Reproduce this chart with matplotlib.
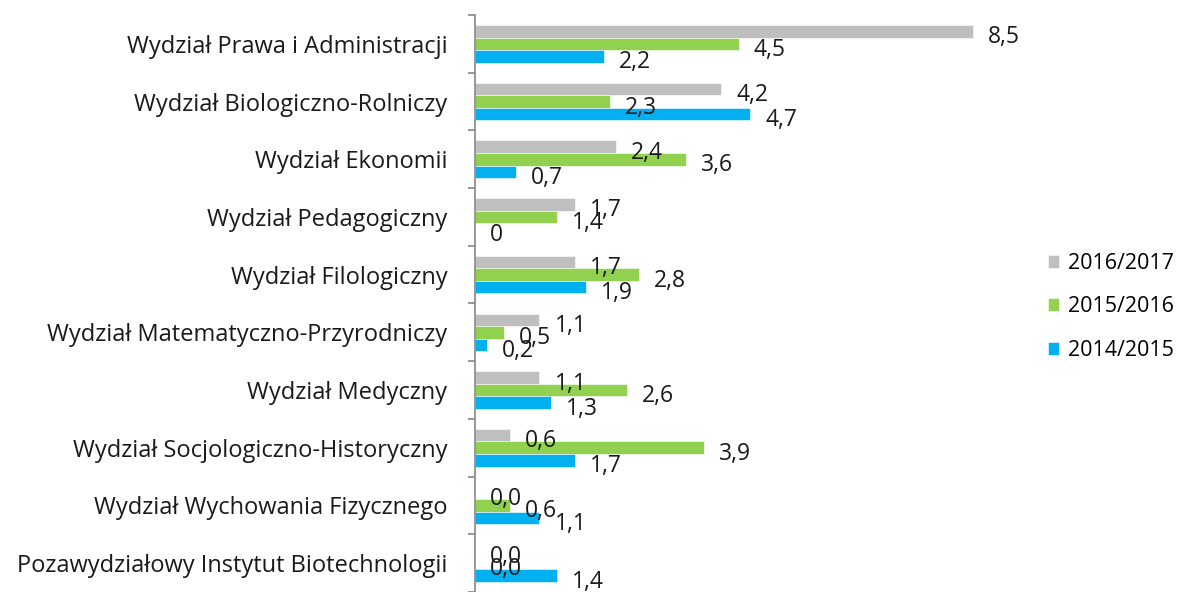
import matplotlib.pyplot as plt
import numpy as np

categories = [
    "Wydział Prawa i Administracji",
    "Wydział Biologiczno-Rolniczy",
    "Wydział Ekonomii",
    "Wydział Pedagogiczny",
    "Wydział Filologiczny",
    "Wydział Matematyczno-Przyrodniczy",
    "Wydział Medyczny",
    "Wydział Socjologiczno-Historyczny",
    "Wydział Wychowania Fizycznego",
    "Pozawydziałowy Instytut Biotechnologii",
]
y2016 = [8.5, 4.2, 2.4, 1.7, 1.7, 1.1, 1.1, 0.6, 0.0, 0.0]
y2015 = [4.5, 2.3, 3.6, 1.4, 2.8, 0.5, 2.6, 3.9, 0.6, 0.0]
y2014 = [2.2, 4.7, 0.7, 0, 1.9, 0.2, 1.3, 1.7, 1.1, 1.4]
series_names = ["2016/2017", "2015/2016", "2014/2015"]
colors = ["#BFBFBF", "#92D050", "#00B0F0"]

plt.rcParams['font.family'] = ['Open Sans', 'DejaVu Sans']

fig = plt.figure(figsize=(11.81, 5.92), dpi=100)
ax = fig.add_axes([475 / 1181, 0.0, 586 / 1181, 577 / 592])

pos = np.arange(len(categories))
h = 0.217
offsets = [-h, 0, h]  # y axis inverted, so negative = higher

def fmt(v, zero_int=False):
    if zero_int and v == 0:
        return "0"
    return ("%.1f" % v).replace(".", ",")

handles = []
for vals, off, col, name in zip([y2016, y2015, y2014], offsets, colors, series_names):
    b = ax.barh(pos + off, vals, height=h, color=col, edgecolor="white",
                linewidth=0.4, label=name)
    handles.append(b)
    for yi, v in zip(pos + off, vals):
        # Pedagogiczny 2014/2015 shows a plain "0"
        lab = fmt(v, zero_int=(name == "2014/2015"))
        ax.annotate(lab, (v, yi), xytext=(15, -6), textcoords="offset pixels",
                    ha="left", va="center", fontsize=16.5, color="#1a1a1a")

ax.set_xlim(0, 10)
ax.set_ylim(len(categories) - 0.5, -0.5)

for s in ["top", "right", "bottom"]:
    ax.spines[s].set_visible(False)
ax.spines["left"].set_color("#868686")
ax.spines["left"].set_linewidth(1.2)
ax.set_xticks([])

ax.set_yticks(pos)
ax.set_yticklabels(categories, fontsize=17, color="#1a1a1a")
ax.tick_params(axis="y", which="major", length=0, pad=20)
ax.set_yticks(np.arange(len(categories) + 1) - 0.5, minor=True)
ax.tick_params(axis="y", which="minor", length=5, color="#868686", width=1.2)

fig.legend(handles=handles, labels=series_names, loc="center left",
           bbox_to_anchor=(1039 / 1181, 1 - 307 / 592), frameon=False,
           fontsize=15.5, handlelength=0.55, handleheight=0.55, handletextpad=0.4,
           labelspacing=1.05, borderaxespad=0)

fig.savefig("out.png", dpi=100)
